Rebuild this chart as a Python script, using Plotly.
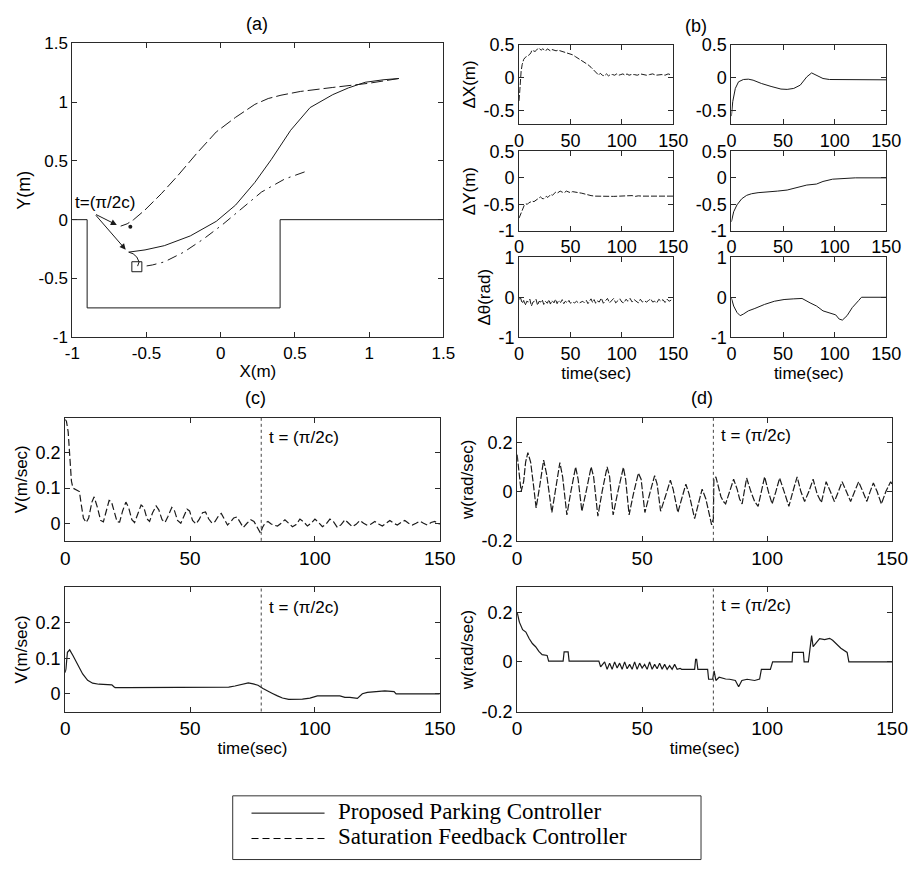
import plotly.graph_objects as go

W, H = 924, 871

# ---------------- data: panel (a) trajectories ----------------
PARK_X = [-1.0, -0.9, -0.9, 0.4, 0.4, 1.5]
PARK_Y = [0.0, 0.0, -0.75, -0.75, 0.0, 0.0]

PROP_XY = [(1.2, 1.2), (1.1, 1.19), (0.973, 1.168), (0.86, 1.12), (0.755, 1.063), (0.602, 0.953),
           (0.471, 0.76), (0.34, 0.51), (0.23, 0.317), (0.1, 0.124), (-0.03, -0.014),
           (-0.205, -0.138), (-0.38, -0.221), (-0.51, -0.257), (-0.62, -0.276),
           (-0.59, -0.29), (-0.565, -0.318), (-0.55, -0.36), (-0.56, -0.395)]
SAT_XY = [(1.2, 1.2), (1.0, 1.16), (0.755, 1.124), (0.537, 1.09), (0.406, 1.058), (0.32, 1.03),
          (0.23, 0.98), (0.1, 0.87), (-0.03, 0.746), (-0.16, 0.566), (-0.29, 0.373),
          (-0.40, 0.221), (-0.51, 0.083), (-0.587, 0.0), (-0.63, -0.035), (-0.674, -0.055)]
REF_XY = [(0.565, 0.406), (0.43, 0.345), (0.275, 0.235), (0.144, 0.097), (0.013, -0.041),
          (-0.118, -0.166), (-0.249, -0.276), (-0.38, -0.359), (-0.46, -0.385), (-0.532, -0.40)]
GOAL_XY = (-0.565, -0.40)
SAT_END_XY = (-0.609, -0.06)

# ---------------- data: panel (b) errors ----------------
DX_SAT = [(0, -0.35), (0.5, -0.2), (1.2, -0.02), (2, 0.1), (3, 0.2), (4.5, 0.28), (6, 0.31), (8, 0.33),
          (10, 0.35), (11.5, 0.38), (12.5, 0.42), (14, 0.41), (15.5, 0.4), (17, 0.42), (18.5, 0.45),
          (20, 0.44), (21.5, 0.42), (23, 0.44), (24.5, 0.43), (26, 0.41), (27.5, 0.44), (29, 0.42),
          (30.5, 0.41), (32, 0.43), (34, 0.42), (36, 0.41), (38, 0.42), (40, 0.41), (43, 0.39),
          (46, 0.38), (49, 0.36), (52, 0.35), (55, 0.32), (58, 0.29), (61, 0.27), (64, 0.24),
          (67, 0.2), (70, 0.16), (72, 0.13), (74, 0.09), (76, 0.06), (77.5, 0.04), (79, 0.07),
          (81, 0.04), (83, 0.03), (85, 0.06), (87, 0.03), (89, 0.05), (91, 0.05), (93, 0.04),
          (95, 0.06), (97, 0.04), (99, 0.05), (101, 0.06), (103, 0.04), (105, 0.06), (107, 0.04),
          (109, 0.05), (112, 0.05), (115, 0.04), (118, 0.06), (121, 0.05), (124, 0.04), (127, 0.05),
          (130, 0.06), (133, 0.04), (136, 0.05), (139, 0.05), (142, 0.04), (145, 0.06), (147, 0.05)]
DX_PROP = [(0, -0.58), (1.3, -0.36), (3.8, -0.16), (6.9, -0.06), (11.6, -0.025), (16.4, -0.02),
           (21, -0.035), (29, -0.085), (38.4, -0.13), (48, -0.17), (54, -0.175), (60.4, -0.16),
           (66.7, -0.11), (73, 0.015), (77.7, 0.075), (82.4, 0.04), (88.7, -0.01), (95, -0.025),
           (104, -0.025), (150, -0.03)]
DY_SAT = [(0, -0.76), (1.5, -0.68), (3.5, -0.58), (5, -0.52), (6.6, -0.49), (8, -0.5), (9.5, -0.47),
          (11.3, -0.46), (13, -0.44), (14.5, -0.45), (16, -0.43), (17.5, -0.4), (19, -0.38),
          (20.8, -0.36), (22, -0.38), (23.5, -0.4), (25, -0.37), (26.5, -0.35), (28, -0.37),
          (29.5, -0.33), (31, -0.31), (32.5, -0.33), (34, -0.3), (35.5, -0.27), (37, -0.29),
          (38.5, -0.26), (40, -0.25), (42, -0.27), (44, -0.28), (46, -0.25), (48, -0.27), (50, -0.28),
          (52, -0.26), (54, -0.27), (56, -0.28), (58, -0.28), (61, -0.29), (64, -0.31), (67, -0.32),
          (70, -0.335), (74, -0.345), (80, -0.35), (86, -0.35), (92, -0.35), (98, -0.345),
          (104, -0.34), (107, -0.35), (110, -0.335), (113, -0.35), (116, -0.34), (120, -0.345),
          (130, -0.345), (140, -0.345), (150, -0.345)]
DY_PROP = [(0, -0.83), (2.2, -0.64), (5.4, -0.51), (10, -0.395), (14.8, -0.33), (19.5, -0.3),
           (25.8, -0.28), (35.2, -0.27), (44.6, -0.25), (54, -0.23), (63.5, -0.18), (73, -0.136),
           (82.4, -0.117), (88.7, -0.068), (98, -0.025), (107.5, -0.012), (120, 0.0), (150, 0.0)]
DT_SAT = [(0, -0.05), (1.5, -0.02), (3, -0.15), (4.5, -0.08), (6, -0.2), (7.5, -0.1), (9, -0.12),
          (10.5, -0.05), (12, -0.22), (13.5, -0.12), (15, -0.1), (16.5, -0.05), (18, -0.2),
          (19.5, -0.1), (21, -0.12), (22.5, -0.06), (24, -0.18), (25.5, -0.1), (27.5, -0.15),
          (29, -0.06), (30.5, -0.17), (32, -0.08), (34, -0.14), (35.5, -0.05), (37, -0.16),
          (38.5, -0.08), (40.5, -0.13), (42, -0.06), (43.5, -0.16), (45, -0.1), (47, -0.14),
          (48.5, -0.08), (50, -0.15), (52, -0.12), (54, -0.14), (56, -0.1), (58, -0.15), (60, -0.12),
          (62, -0.1), (63.5, -0.14), (65.5, -0.08), (67, -0.16), (68.5, -0.1), (70, -0.04),
          (71.5, -0.13), (73, -0.06), (74.5, -0.15), (76, -0.09), (78, -0.12), (80, -0.02),
          (82, -0.15), (84, -0.08), (86, -0.03), (88, -0.14), (90, -0.08), (92, -0.03), (94, -0.14),
          (96, -0.1), (98, -0.04), (100, -0.12), (102, -0.14), (104, -0.05), (106, -0.1), (108, -0.03),
          (110, -0.12), (112, -0.06), (114, -0.1), (116, -0.14), (118, -0.05), (120, -0.12),
          (122, -0.09), (124, -0.12), (126, -0.08), (128, -0.04), (130, -0.12), (132, -0.1),
          (134, -0.14), (136, -0.05), (138, -0.1), (140, -0.06), (142, -0.13), (144, -0.05),
          (146, -0.1), (148, -0.07)]
DT_PROP = [(0, -0.02), (2.2, -0.22), (5.4, -0.38), (8.5, -0.46), (11.6, -0.42), (16.4, -0.34),
           (22.7, -0.28), (32, -0.18), (41.6, -0.1), (51, -0.057), (60.4, -0.04), (68.4, -0.03),
           (76.2, -0.14), (82.5, -0.22), (88.7, -0.34), (93, -0.38), (98, -0.42), (101, -0.44),
           (104.4, -0.545), (107.5, -0.57), (112, -0.46), (117, -0.26), (123.3, -0.08), (126, 0.0),
           (150, 0.0)]

# ---------------- data: panel (c) linear velocity ----------------
V_SAT = [(0, 0.295), (0.5, 0.29), (1.2, 0.26), (1.8, 0.19), (2.5, 0.12), (3.1, 0.1), (4.4, 0.095),
         (5.7, 0.09), (6.4, 0.055), (7.3, 0.015), (8.4, 0.002), (9.4, 0.015), (10.7, 0.06),
         (11.6, 0.075), (12.9, 0.045), (14.2, 0.008), (15.3, 0.004), (16.4, 0.03), (17.6, 0.065),
         (18.5, 0.062), (19.6, 0.03), (20.8, 0.004), (21.8, 0.003), (23, 0.035), (24.3, 0.06),
         (25.4, 0.045), (26.7, 0.01), (27.8, 0.002), (29, 0.025), (30.4, 0.052), (31.5, 0.045),
         (32.8, 0.012), (33.8, 0.005), (35, 0.03), (36.4, 0.049), (37.5, 0.038), (38.8, 0.01),
         (40, 0.002), (41.2, 0.02), (42.7, 0.045), (43.8, 0.035), (45, 0.008), (46.3, 0.0),
         (47.5, 0.02), (48.8, 0.04), (49.8, 0.035), (51, 0.008), (52.4, -0.002), (53.6, 0.01),
         (55, 0.03), (56.2, 0.032), (57.5, 0.012), (58.8, 0.0), (60, 0.005), (61.5, 0.022),
         (62.5, 0.028), (63.8, 0.012), (65, -0.005), (66.4, 0.005), (67.5, 0.015), (68.8, 0.018),
         (70, 0.002), (71.3, -0.012), (72.8, 0.0), (74.3, 0.01), (75.6, 0.005), (77, -0.012),
         (78.2, -0.028), (79, -0.012), (80, 0.0), (81.2, 0.005), (82.5, -0.002), (83.8, -0.006),
         (85, -0.008), (86.5, 0.0), (88, 0.01), (89.5, 0.0), (91, -0.01), (92.5, -0.004),
         (94, 0.012), (95.5, 0.004), (97, -0.008), (98.5, 0.0), (100, 0.012), (101.5, 0.002),
         (103, -0.01), (104.5, -0.002), (106, 0.012), (107.5, 0.004), (109, -0.012), (110.5, -0.004),
         (112, 0.01), (113.5, 0.0), (115, -0.01), (116.5, -0.003), (118, 0.008), (119.5, 0.0),
         (121, -0.006), (122.5, -0.002), (124, 0.005), (125.5, -0.002), (127, -0.008), (128.5, 0.0),
         (130, 0.008), (131.5, 0.0), (133, -0.005), (134.5, 0.002), (136, 0.008), (137.5, 0.0),
         (139, -0.005), (140.5, 0.0), (142, 0.006), (143.5, 0.0), (145, -0.005), (146.5, 0.002),
         (148, 0.005), (150, -0.003)]
V_PROP = [(0, 0.06), (0.3, 0.07), (0.9, 0.117), (1.8, 0.124), (3.1, 0.108), (5.1, 0.08), (7, 0.056),
          (9, 0.038), (11, 0.03), (13.5, 0.027), (18.7, 0.025), (19.5, 0.02), (20, 0.0175),
          (25, 0.0175), (29, 0.0175), (33, 0.019), (40, 0.019), (50, 0.019), (60, 0.019),
          (65.5, 0.019), (68, 0.022), (70.7, 0.027), (73.3, 0.031), (75.3, 0.028), (77.2, 0.024),
          (79.2, 0.015), (81.1, 0.007), (83, 0.001), (85, -0.006), (87, -0.012), (89.5, -0.016),
          (92, -0.016), (95, -0.015), (98, -0.012), (101, -0.006), (105, -0.006), (110, -0.006),
          (112, -0.01), (114, -0.01), (117, -0.013), (119, 0.0), (121, 0.004), (123.7, 0.006),
          (128, 0.008), (131.7, 0.006), (132.5, 0.0), (150, 0.0)]

# ---------------- data: panel (d) angular velocity ----------------
W_SAT = [(0, 0.15), (0.8, 0.07), (1.6, 0.0), (2.6, 0.04), (3.4, 0.12), (4.3, 0.158), (5.4, 0.12),
         (6.5, 0.03), (7.6, -0.066), (9.0, 0.02), (10.6, 0.128), (11.8, 0.07), (12.9, -0.01),
         (13.9, -0.085), (15.4, 0.01), (17.1, 0.118), (18.2, 0.06), (19.1, -0.03), (19.9, -0.095),
         (21.5, 0.0), (23.4, 0.1), (24.4, 0.05), (25.2, -0.02), (25.9, -0.08), (27.6, 0.0),
         (29.6, 0.1), (30.6, 0.06), (31.5, -0.03), (32.3, -0.1), (34.0, 0.0), (36.0, 0.1),
         (37.0, 0.06), (37.8, -0.02), (38.4, -0.095), (40.3, 0.0), (42.5, 0.098), (43.4, 0.05),
         (44.1, -0.03), (44.8, -0.095), (46.5, -0.01), (48.5, 0.075), (49.6, 0.05), (50.4, -0.02),
         (51.1, -0.085), (53.0, -0.01), (55.0, 0.065), (56.0, 0.03), (56.8, -0.03), (57.4, -0.08),
         (59.3, -0.02), (61.3, 0.046), (62.4, 0.01), (63.4, -0.04), (64.3, -0.085), (65.8, -0.03),
         (67.5, 0.03), (68.8, -0.01), (70.0, -0.06), (71.0, -0.11), (72.5, -0.05), (74.0, 0.01),
         (75.5, -0.03), (76.6, -0.08), (77.8, -0.135), (78.5, -0.11), (78.7, 0.05), (79.5, 0.06),
         (80.5, 0.02), (81.5, -0.02), (82.5, -0.04), (83.4, -0.05), (85.0, 0.0), (86.6, 0.05),
         (88.0, 0.01), (89.0, -0.03), (90.0, -0.05), (91.0, 0.01), (91.8, 0.055), (93.5, 0.0),
         (95.0, -0.04), (96.4, -0.06), (97.8, 0.01), (99.0, 0.06), (100.5, 0.0), (102.0, -0.05),
         (103.5, 0.0), (105.0, 0.055), (106.8, 0.0), (108.7, -0.06), (110.3, 0.0), (112.0, 0.06),
         (113.5, 0.0), (115.0, -0.04), (116.7, 0.0), (118.4, 0.05), (120.0, -0.01), (121.7, -0.045),
         (122.7, 0.0), (123.6, 0.04), (125.3, 0.0), (126.9, -0.04), (128.5, 0.0), (130.0, 0.04),
         (131.7, 0.0), (133.4, -0.04), (135.0, 0.0), (136.6, 0.04), (138.3, 0.0), (139.9, -0.04),
         (141.2, 0.0), (142.5, 0.035), (144.0, 0.0), (145.7, -0.05), (147.5, 0.0), (149.4, 0.04),
         (150, 0.03)]
W_PROP = [(0, 0.2), (0.9, 0.16), (2.2, 0.13), (3.5, 0.12), (4.8, 0.094), (6.1, 0.074), (7.4, 0.061),
          (8.7, 0.042), (10, 0.029), (12, 0.026), (12.6, 0.003), (18.4, 0.003), (18.8, 0.04),
          (20.4, 0.04), (20.8, 0.003), (25, 0.003), (32.7, 0.003), (33.4, -0.02), (35, 0.0),
          (36, -0.03), (37, -0.005), (38, -0.03), (39, 0.0), (40, -0.025), (41, -0.005), (42, -0.03),
          (43, 0.0), (44, -0.028), (45, -0.01), (46, -0.03), (47, 0.0), (48, -0.03), (49, -0.005),
          (50, -0.025), (51, -0.01), (52, -0.03), (53, 0.0), (54, -0.03), (55, -0.01), (56, -0.028),
          (57, -0.005), (58, -0.03), (59, -0.01), (60, -0.03), (61, -0.015), (62, -0.03), (63, -0.01),
          (64, -0.03), (65.2, -0.026), (65.8, -0.03), (71, -0.03), (71.4, 0.01), (71.8, 0.01),
          (72.3, -0.03), (76.2, -0.03), (76.6, -0.07), (78.2, -0.07), (78.8, -0.036), (79.5, -0.075),
          (80.8, -0.062), (83.4, -0.069), (85, -0.07), (87.3, -0.075), (88.6, -0.1), (89.9, -0.075),
          (92, -0.07), (95, -0.075), (97, -0.069), (97.7, -0.03), (101.3, -0.03), (102.2, 0.0),
          (110, 0.0), (110.2, 0.038), (114.5, 0.038), (114.8, 0.0), (116.5, 0.0), (117.1, 0.061),
          (117.8, 0.106), (118.4, 0.061), (121, 0.094), (123, 0.09), (125, 0.095), (126.2, 0.087),
          (128, 0.07), (129.5, 0.055), (132, 0.038), (132.7, 0.0), (150, 0.0)]

T_SWITCH = 78.5  # t = pi/(2c)

# ---------------- tick labels ----------------
A_TICKS = [-1, -0.5, 0, 0.5, 1, 1.5]
A_TICKTEXT = ['-1', '-0.5', '0', '0.5', '1', '1.5']
T_TICKS = [0, 50, 100, 150]
T_TICKTEXT = ['0', '50', '100', '150']

LINE = '#1a1a1a'
AX = '#2a2a2a'
FONT = 'Liberation Sans'


def xd(a, b):
    return [a / W, b / W]


def yd(top, bottom):
    return [1 - bottom / H, 1 - top / H]


def unzip(pairs):
    return [p[0] for p in pairs], [p[1] for p in pairs]


fig = go.Figure()


def add_line(pairs, ax_id, dash='solid', width=1.0):
    xs, ys = unzip(pairs)
    fig.add_trace(go.Scatter(x=xs, y=ys, mode='lines', xaxis='x' + ax_id, yaxis='y' + ax_id,
                             line=dict(color=LINE, width=width, dash=dash), showlegend=False,
                             hoverinfo='skip'))


def axis_style(domain, rng, tickvals, ticktext, anchor, title=None, fs=17, tfs=17):
    d = dict(domain=domain, range=rng, tickvals=tickvals, ticktext=ticktext, anchor=anchor,
             showline=True, linecolor=AX, linewidth=1, mirror='ticks', ticks='inside',
             ticklen=5, tickcolor=AX, showgrid=False, zeroline=False,
             tickfont=dict(family=FONT, size=fs, color='black'))
    if title:
        d['title'] = dict(text=title, font=dict(family=FONT, size=tfs, color='black'), standoff=3)
    return d


layout = {}

# panel (a)
fig.add_trace(go.Scatter(x=PARK_X, y=PARK_Y, mode='lines', xaxis='x', yaxis='y',
                         line=dict(color=LINE, width=1), showlegend=False, hoverinfo='skip'))
add_line(PROP_XY, '', 'solid')
add_line(SAT_XY, '', '12px,4px')
add_line(REF_XY, '', '10px,5px,2px,5px')
fig.add_trace(go.Scatter(x=[GOAL_XY[0]], y=[GOAL_XY[1]], mode='markers', xaxis='x', yaxis='y',
                         marker=dict(symbol='square-open', size=10, color=LINE, line=dict(width=1)),
                         showlegend=False, hoverinfo='skip'))
fig.add_trace(go.Scatter(x=[SAT_END_XY[0]], y=[SAT_END_XY[1]], mode='markers', xaxis='x', yaxis='y',
                         marker=dict(symbol='circle', size=4, color=LINE),
                         showlegend=False, hoverinfo='skip'))
layout['xaxis'] = axis_style(xd(66, 447), [-1, 1.5], A_TICKS, A_TICKTEXT, 'y', 'X(m)')
layout['yaxis'] = axis_style(yd(34, 335), [-1, 1.5], A_TICKS, A_TICKTEXT, 'x', 'Y(m)', tfs=18)

# panel (b)
cols = [(524.7, 683), (742.7, 901.7)]
rows = [(35.7, 116.7), (144.7, 226), (253, 335)]
b_series = [[DX_SAT, DX_PROP], [DY_SAT, DY_PROP], [DT_SAT, DT_PROP]]
b_ranges = [[-0.7, 0.5], [-1, 0.5], [-1, 1]]
b_yticks = [([-0.5, 0, 0.5], ['-0.5', '0', '0.5']),
            ([-1, -0.5, 0, 0.5], ['-1', '-0.5', '0', '0.5']),
            ([-1, 0, 1], ['-1', '0', '1'])]
b_titles = ['ΔX(m)', 'ΔY(m)', 'Δθ(rad)']
n = 2
for r in range(3):
    for c in range(2):
        aid = str(n)
        add_line(b_series[r][c], aid, '6px,2px' if c == 0 else 'solid')
        layout['xaxis' + aid] = axis_style(xd(*cols[c]), [0, 150], T_TICKS, T_TICKTEXT, 'y' + aid,
                                           'time(sec)' if r == 2 else None, fs=18)
        layout['yaxis' + aid] = axis_style(yd(*rows[r]), b_ranges[r], b_yticks[r][0], b_yticks[r][1],
                                           'x' + aid, b_titles[r] if c == 0 else None, fs=18)
        n += 1

# panels (c) and (d)
cd = [('8', V_SAT, '7px,3px', (58.7, 443.3), (417.3, 543.3), [-0.05, 0.3], [0, 0.1, 0.2], ['0', '0.1', '0.2'], 'V(m/sec)', None, 0.244),
      ('9', V_PROP, 'solid', (58.7, 443.3), (591, 718), [-0.05, 0.3], [0, 0.1, 0.2], ['0', '0.1', '0.2'], 'V(m/sec)', 'time(sec)', 0.244),
      ('10', W_SAT, '7px,2px', (522.7, 907.7), (417.3, 543.3), [-0.2, 0.3], [-0.2, 0, 0.2], ['-0.2', '0', '0.2'], 'w(rad/sec)', None, 0.228),
      ('11', W_PROP, 'solid', (522.7, 907.7), (591, 718), [-0.2, 0.3], [-0.2, 0, 0.2], ['-0.2', '0', '0.2'], 'w(rad/sec)', 'time(sec)', 0.228)]
annotations = []
shapes = []
for aid, series, dash, xr, yr, rng, yt, ytt, ytitle, xtitle, ylab in cd:
    add_line(series, aid, dash, 1.2)
    layout['xaxis' + aid] = axis_style(xd(*xr), [0, 150], T_TICKS, T_TICKTEXT, 'y' + aid, xtitle, fs=19)
    layout['yaxis' + aid] = axis_style(yd(*yr), rng, yt, ytt, 'x' + aid, ytitle, fs=18)
    shapes.append(dict(type='line', xref='x' + aid, yref='y' + aid + ' domain', x0=T_SWITCH, x1=T_SWITCH,
                       y0=0, y1=1, line=dict(color='#444', width=1, dash='dot')))
    annotations.append(dict(xref='x' + aid, yref='y' + aid, x=T_SWITCH + 2.2, y=ylab, text='t = (π/2c)',
                            showarrow=False, xanchor='left', yanchor='middle',
                            font=dict(family=FONT, size=17, color='black')))

# panel (a) annotation with arrows
annotations.append(dict(xref='x', yref='y', x=-0.78, y=0.145, text='t=(π/2c)', showarrow=False,
                        font=dict(family=FONT, size=17, color='black')))
for hx, hy in [(-0.70, -0.045), (-0.64, -0.255)]:
    annotations.append(dict(xref='x', yref='y', axref='x', ayref='y', x=hx, y=hy, ax=-0.85, ay=0.05,
                            text='', showarrow=True, arrowhead=2, arrowsize=1.2, arrowwidth=1,
                            arrowcolor=LINE))

# panel titles
for txt, px, py in [('(a)', 256, 14), ('(b)', 706, 16), ('(c)', 254, 397), ('(d)', 713, 397)]:
    annotations.append(dict(xref='paper', yref='paper', x=px / W, y=1 - py / H, text=txt,
                            showarrow=False, xanchor='center', yanchor='middle',
                            font=dict(family=FONT, size=18, color='black')))

# legend box (drawn manually)
shapes.append(dict(type='rect', xref='paper', yref='paper', x0=230.7 / W, x1=711.5 / W,
                   y0=1 - 869.5 / H, y1=1 - 804.3 / H, line=dict(color='#333', width=1)))
for ly, dsh, txt in [(822, 'solid', 'Proposed Parking Controller'),
                     (848, '7px,4px', 'Saturation Feedback Controller')]:
    shapes.append(dict(type='line', xref='paper', yref='paper', x0=250 / W, x1=325 / W,
                       y0=1 - ly / H, y1=1 - ly / H, line=dict(color='black', width=1, dash=dsh)))
    annotations.append(dict(xref='paper', yref='paper', x=337 / W, y=1 - (ly - 2) / H, text=txt,
                            showarrow=False, xanchor='left', yanchor='middle',
                            font=dict(family='Liberation Serif', size=23, color='black')))

fig.update_layout(width=W, height=H, margin=dict(l=0, r=0, t=0, b=0),
                  paper_bgcolor='white', plot_bgcolor='white', showlegend=False,
                  annotations=annotations, shapes=shapes, **layout)

fig.write_html('out.html')
